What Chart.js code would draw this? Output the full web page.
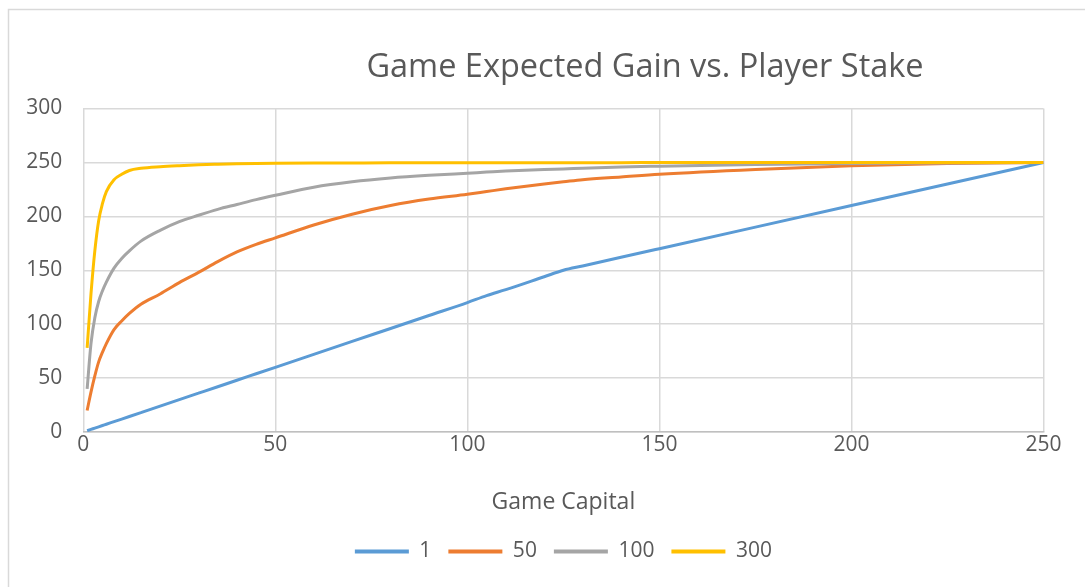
<!DOCTYPE html>
<html>
<head>
<meta charset="utf-8">
<title>Game Expected Gain vs. Player Stake</title>
<script src="https://cdn.jsdelivr.net/npm/chart.js@4/dist/chart.umd.min.js"></script>
<style>
  html, body { margin: 0; padding: 0; background: #fff; }
  #wrap { width: 1085px; height: 587px; position: relative; }
</style>
</head>
<body>
<div id="wrap"><canvas id="gainChart"></canvas></div>
<script>
// game capital values shared by every series
const capital = [1, 2, 3, 4, 5, 6, 8, 10, 12, 15, 20, 25, 30, 35, 40, 45, 50, 60, 70, 80, 90,
                 100, 105, 110, 120, 125, 130, 140, 150, 175, 200, 225, 250];

// expected gain per player stake
const stake1 = [1.2, 2.4, 3.6, 4.8, 6, 7.2, 9.6, 12, 14.4, 18, 24, 30, 36, 42, 48, 54, 60, 72, 84, 96, 108,
                120, 126.5, 132, 144, 150, 154, 162, 170, 190, 210, 230, 250];
const stake50 = [20, 37, 52, 65, 74, 82, 95, 103, 110, 118.5, 128, 138.5, 148, 158, 167, 174, 180, 192, 202, 210, 216,
                 220.5, 223, 225.5, 230, 232, 234, 236.5, 239, 243.5, 247, 249, 250];
const stake100 = [40, 82, 106, 121, 131, 139, 152, 161, 168, 177, 187, 195, 201, 206.5, 211, 215.5, 219.5, 227, 232, 235.5, 238,
                  240, 241, 242, 243.5, 244, 244.7, 245.8, 246.5, 248, 249, 249.5, 250];
const stake300 = [78, 128, 168, 196, 212, 223, 234, 239, 242.5, 244.5, 246, 247, 247.8, 248.3, 248.7, 249, 249.2, 249.4, 249.5, 249.6, 249.6,
                  249.7, 249.7, 249.7, 249.8, 249.8, 249.8, 249.8, 249.9, 249.9, 249.9, 250, 250];

const stakeLabels = ['1', '50', '100', '300'];
const stakeColors = ['#5B9BD5', '#ED7D31', '#A5A5A5', '#FFC000'];
const xTicks = [0, 50, 100, 150, 200, 250];
const yTicks = [0, 50, 100, 150, 200, 250, 300];

const TEXT = '#595959';
const FONT = '"Open Sans", "DejaVu Sans", sans-serif';

function toPoints(ys) {
  return capital.map((c, i) => ({ x: c, y: ys[i] }));
}

const series = [stake1, stake50, stake100, stake300];

// outer frame and the chart heading
const framePlugin = {
  id: 'frame',
  beforeDraw(chart) {
    const ctx = chart.ctx;
    ctx.save();
    ctx.fillStyle = '#fff';
    ctx.fillRect(0, 0, chart.width, chart.height);
    ctx.strokeStyle = '#d9d9d9';
    ctx.lineWidth = 1.5;
    ctx.strokeRect(8.5, 9.5, chart.width + 20, chart.height + 20);
    ctx.restore();
  },
  afterDraw(chart) {
    const ctx = chart.ctx;
    ctx.save();
    ctx.fillStyle = TEXT;
    ctx.font = '32.5px ' + FONT;
    ctx.textAlign = 'center';
    ctx.textBaseline = 'alphabetic';
    ctx.fillText('Game Expected Gain vs. Player Stake', 645, 77);
    ctx.restore();
  }
};

new Chart(document.getElementById('gainChart'), {
  type: 'line',
  data: {
    datasets: series.map((ys, i) => ({
      label: stakeLabels[i],
      data: toPoints(ys),
      borderColor: stakeColors[i],
      backgroundColor: stakeColors[i],
      borderWidth: 3,
      pointRadius: 0,
      cubicInterpolationMode: 'monotone',
      order: series.length - i
    }))
  },
  options: {
    responsive: true,
    maintainAspectRatio: false,
    animation: false,
    layout: { padding: { top: 108.5, right: 41.5, left: 0, bottom: 15 } },
    scales: {
      x: {
        type: 'linear',
        min: 0,
        max: 250,
        afterBuildTicks: (s) => { s.ticks = xTicks.map(v => ({ value: v })); },
        afterFit: (s) => { s.height = 92; },
        ticks: { color: TEXT, font: { family: FONT, size: 21 }, padding: 0 },
        grid: { color: '#d9d9d9', lineWidth: 1.5, drawTicks: false },
        border: { color: '#bfbfbf', width: 1.5 },
        title: {
          display: true,
          text: 'Game Capital',
          color: TEXT,
          font: { family: FONT, size: 23 },
          padding: { top: 0, bottom: 8 }
        }
      },
      y: {
        min: 0,
        max: 300,
        afterBuildTicks: (s) => { s.ticks = yTicks.map(v => ({ value: v })); },
        afterFit: (s) => { s.width = 83.3; },
        ticks: { color: TEXT, font: { family: FONT, size: 21 }, padding: 21 },
        grid: { color: '#d9d9d9', lineWidth: 1.5, drawTicks: false },
        border: { display: false }
      }
    },
    plugins: {
      title: { display: false },
      tooltip: { enabled: false },
      legend: {
        position: 'bottom',
        fullSize: false,
        labels: {
          color: TEXT,
          font: { family: FONT, size: 21 },
          boxWidth: 54,
          boxHeight: 4,
          padding: 17,
          sort: (a, b) => a.datasetIndex - b.datasetIndex,
          generateLabels: (chart) =>
            Chart.defaults.plugins.legend.labels.generateLabels(chart)
              .map(l => Object.assign(l, { lineWidth: 0 }))
        }
      }
    }
  },
  plugins: [framePlugin]
});
</script>
</body>
</html>
